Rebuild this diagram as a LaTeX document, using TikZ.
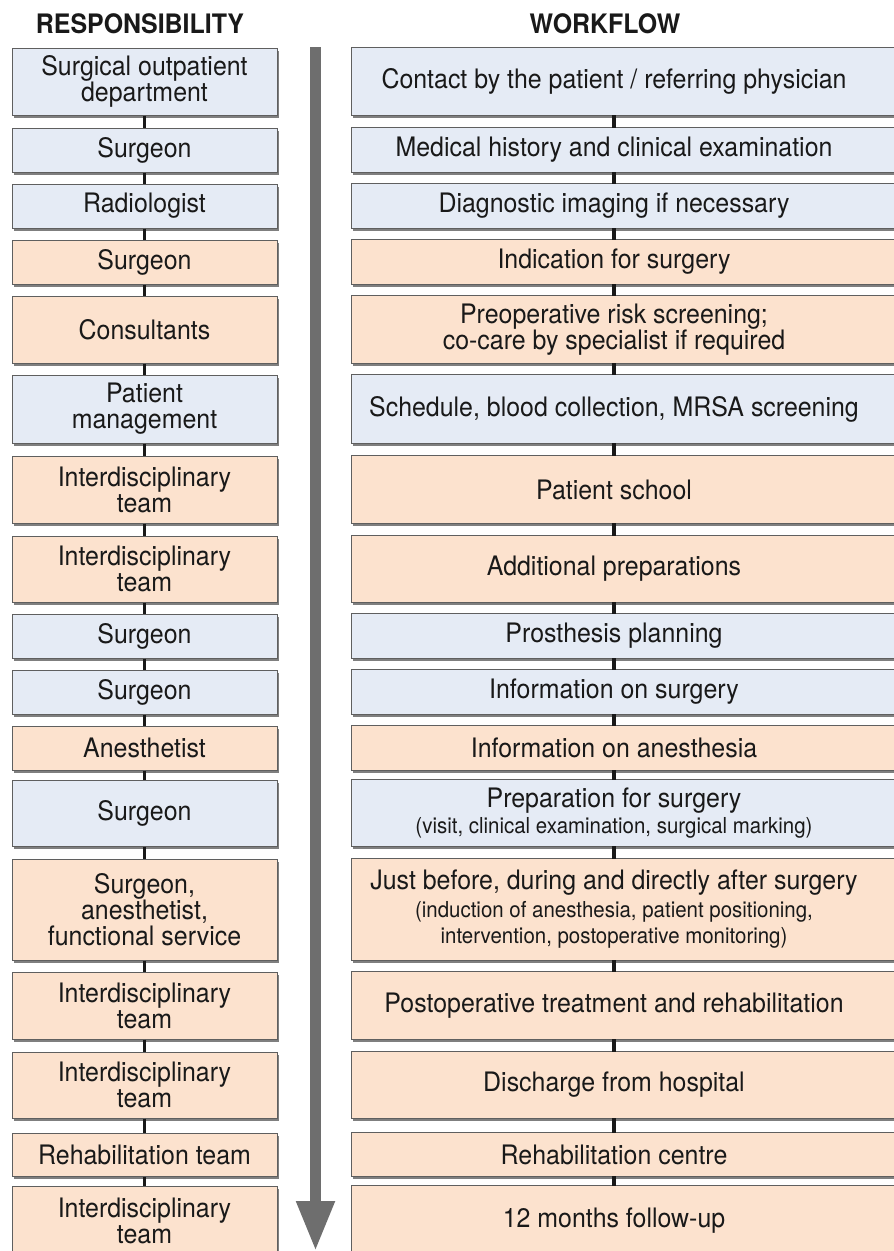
\documentclass[tikz,border=0pt]{standalone}
\usepackage{fontspec}
\setmainfont[FakeStretch=0.93]{TeX Gyre Heros}
\usetikzlibrary{shadows,backgrounds,arrows.meta}
\definecolor{bfill}{RGB}{229,235,245}
\definecolor{ofill}{RGB}{252,226,206}
\definecolor{bord}{RGB}{95,95,95}
\definecolor{txt}{RGB}{25,25,25}
\definecolor{arrcol}{RGB}{110,110,110}
\newcommand{\sml}{\fontsize{22}{26}\selectfont}
\tikzset{
  base/.style={inner sep=0pt, align=center, text=txt, font=\fontsize{26.8}{26}\selectfont},
  shad/.style={drop shadow={shadow xshift=1.5pt, shadow yshift=-3pt, opacity=0.5, fill=black}},
  lbox/.style={base, draw=bord, line width=1pt, minimum width=265pt, shad},
  wtext/.style={base, minimum width=524pt},
  wbox/.style={draw=bord, line width=1pt, shad},
  tick/.style={line width=3.2pt, draw=black!90},
  hdr/.style={font=\bfseries\fontsize{26.8}{27}\selectfont, text=txt, inner sep=0pt},
}
\newcommand{\flowrow}[6]{%
  \node[lbox, fill=#4, minimum height={#3-#2}] (l#1) at (144.5,{(#2+#3)/2}) {#5};
  \node[wtext, minimum height={#3-#2}] (r#1) at (614,{(#2+#3)/2}) {#6};
  \begin{pgfonlayer}{background}
    \path[wbox, fill=#4] (r#1.north west) rectangle ([xshift=40pt]r#1.south east);
  \end{pgfonlayer}
}
\begin{document}
\begin{tikzpicture}[x=1pt,y=-1pt]
\useasboundingbox (0,0) rectangle (894,1251);
\node[hdr] (hR) at (140,23.5) {RESPONSIBILITY};
\node[hdr] (hW) at (605,23.5) {WORKFLOW};
\coordinate (aS) at (315.5,47);
\coordinate (aE) at (315.5,1251);
\draw[line width=11pt, draw=arrcol, -{Triangle[width=36pt,length=50pt,fill=arrcol]}] (aS) -- (aE);
\flowrow{1}{48}{115}{bfill}{Surgical outpatient\\department}{Contact by the patient / referring physician}
\flowrow{2}{128}{172}{bfill}{Surgeon}{Medical history and clinical examination}
\flowrow{3}{184}{228}{bfill}{Radiologist}{Diagnostic imaging if necessary}
\flowrow{4}{240}{284}{ofill}{Surgeon}{Indication for surgery}
\flowrow{5}{296}{363}{ofill}{Consultants}{Preoperative risk screening;\\co-care by specialist if required}
\flowrow{6}{375}{443}{bfill}{Patient\\management}{Schedule, blood collection, MRSA screening}
\flowrow{7}{456}{523}{ofill}{Interdisciplinary\\team}{Patient school}
\flowrow{8}{536}{602}{ofill}{Interdisciplinary\\team}{Additional preparations}
\flowrow{9}{614}{658}{bfill}{Surgeon}{Prosthesis planning}
\flowrow{10}{670}{714}{bfill}{Surgeon}{Information on surgery}
\flowrow{11}{726}{770}{ofill}{Anesthetist}{Information on anesthesia}
\flowrow{12}{780}{846}{bfill}{Surgeon}{Preparation for surgery\\ \sml (visit, clinical examination, surgical marking)}
\flowrow{13}{859}{960}{ofill}{Surgeon,\\anesthetist,\\functional service}{Just before, during and directly after surgery\\[2pt] \sml (induction of anesthesia, patient positioning,\\ \sml intervention, postoperative monitoring)}
\flowrow{14}{972}{1039}{ofill}{Interdisciplinary\\team}{Postoperative treatment and rehabilitation}
\flowrow{15}{1052}{1118}{ofill}{Interdisciplinary\\team}{Discharge from hospital}
\flowrow{16}{1133}{1176}{ofill}{Rehabilitation team}{Rehabilitation centre}
\flowrow{17}{1186}{1256}{ofill}{Interdisciplinary\\team}{12 months follow-up}
\foreach \a/\b in {1/2,2/3,3/4,4/5,5/6,6/7,7/8,8/9,9/10,10/11,11/12,12/13,13/14,14/15,15/16,16/17}{
  \draw[tick] (l\a) -- (l\b);
  \draw[tick] (r\a) -- (r\b);
}
\end{tikzpicture}
\end{document}
